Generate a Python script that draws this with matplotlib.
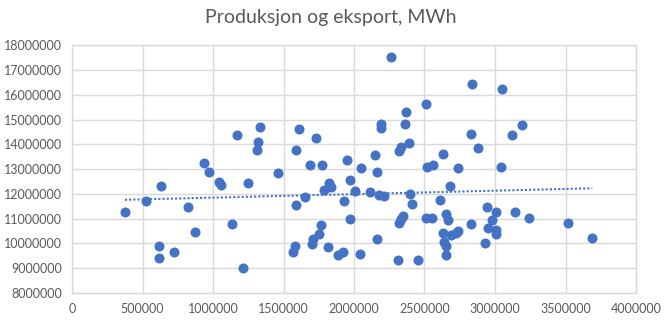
import numpy as np
import matplotlib
matplotlib.use("Agg")
import matplotlib.pyplot as plt
from matplotlib.ticker import MultipleLocator, FuncFormatter

# ==================== Data ====================
# x: produksjon (MWh), y: eksport (MWh)
PRODUKSJON = [
    938e3, 972e3, 1.17e6, 1.33e6, 1.32e6, 1.31e6, 1.46e6, 1.61e6, 1.73e6, 1.59e6,
    1.69e6, 1.77e6, 1.95e6, 1.97e6, 2.05e6, 1.04e6, 1.06e6, 1.25e6, 1.82e6,
    2.26e6, 2.84e6, 3.05e6, 2.51e6, 2.37e6, 2.19e6, 2.19e6, 2.36e6, 2.83e6, 3.12e6,
    3.19e6, 2.39e6, 2.33e6, 2.32e6, 2.88e6, 2.63e6, 2.15e6, 2.16e6, 2.52e6, 2.56e6,
    2.74e6, 3.04e6,
    631e3, 525e3, 376e3, 820e3, 875e3, 1.135e6, 619e3, 619e3, 723e3, 1.21e6,
    1.59e6, 1.655e6, 1.79e6, 1.84e6, 1.93e6, 2.01e6, 1.97e6, 1.765e6, 1.75e6,
    1.71e6, 1.70e6, 1.58e6, 1.57e6, 1.815e6, 1.89e6, 1.92e6, 2.04e6,
    2.11e6, 2.18e6, 2.21e6, 2.40e6, 2.41e6, 2.61e6, 2.68e6, 2.165e6, 2.31e6,
    2.455e6, 2.32e6, 2.33e6, 2.345e6, 2.51e6, 2.55e6, 2.65e6, 2.67e6, 2.63e6,
    2.635e6, 2.65e6, 2.655e6, 2.69e6, 2.72e6, 2.74e6, 2.83e6, 2.94e6, 2.95e6,
    2.93e6, 3.01e6, 2.98e6, 3.01e6, 3.01e6, 3.14e6, 3.24e6, 3.52e6, 3.69e6,
]
EKSPORT = [
    13.24e6, 12.87e6, 14.36e6, 14.69e6, 14.09e6, 13.77e6, 12.83e6, 14.62e6, 14.24e6, 13.77e6,
    13.18e6, 13.15e6, 13.35e6, 12.58e6, 13.05e6, 12.49e6, 12.36e6, 12.45e6, 12.45e6,
    17.51e6, 16.44e6, 16.22e6, 15.64e6, 15.32e6, 14.83e6, 14.66e6, 14.81e6, 14.42e6, 14.38e6,
    14.79e6, 14.06e6, 13.88e6, 13.73e6, 13.86e6, 13.62e6, 13.58e6, 12.89e6, 13.09e6, 13.16e6,
    13.03e6, 13.07e6,
    12.33e6, 11.72e6, 11.29e6, 11.49e6, 10.47e6, 10.79e6, 9.89e6, 9.43e6, 9.64e6, 9.01e6,
    11.54e6, 11.86e6, 12.17e6, 12.26e6, 11.70e6, 12.10e6, 10.98e6, 10.75e6, 10.39e6,
    10.20e6, 9.98e6, 9.90e6, 9.64e6, 9.86e6, 9.54e6, 9.64e6, 9.56e6,
    12.06e6, 11.95e6, 11.92e6, 12.00e6, 11.58e6, 11.74e6, 12.33e6, 10.17e6, 9.33e6,
    9.33e6, 10.83e6, 10.97e6, 11.09e6, 11.01e6, 11.01e6, 11.17e6, 10.93e6, 10.44e6,
    10.05e6, 9.89e6, 9.54e6, 10.35e6, 10.42e6, 10.51e6, 10.77e6, 11.48e6, 10.63e6,
    10.02e6, 11.26e6, 10.95e6, 10.54e6, 10.40e6, 11.25e6, 11.03e6, 10.82e6, 10.23e6,
]

TITLE = "Produksjon og eksport, MWh"

# ==================== Style ====================
POINT_COLOR = "#4472C4"
GRID_COLOR = "#D9D9D9"
TEXT_COLOR = "#595959"
FONT = ["Lato", "DejaVu Sans"]

plt.rcParams["font.family"] = FONT

fig = plt.figure(figsize=(6.65, 3.26), dpi=100)
ax = fig.add_axes([72 / 665, 1 - 293 / 326, (636 - 72) / 665, (293 - 45.3) / 326])

x = np.array(PRODUKSJON)
y = np.array(EKSPORT)

ax.scatter(x, y, s=52, color=POINT_COLOR, zorder=3, linewidths=0)

# linear trendline, as Excel does it
k, m = np.polyfit(x, y, 1)
xt = np.array([x.min(), x.max()])
ax.plot(xt, k * xt + m, linestyle=(0, (1, 1)), color=POINT_COLOR, linewidth=1.5, zorder=2)

ax.set_xlim(0, 4000000)
ax.set_ylim(8000000, 18000000)
ax.xaxis.set_major_locator(MultipleLocator(500000))
ax.yaxis.set_major_locator(MultipleLocator(1000000))
fmt = FuncFormatter(lambda v, p: f"{int(round(v))}")
ax.xaxis.set_major_formatter(fmt)
ax.yaxis.set_major_formatter(fmt)

ax.grid(True, color=GRID_COLOR, linewidth=1, zorder=0)
ax.set_axisbelow(True)
for s in ax.spines.values():
    s.set_color(GRID_COLOR)
    s.set_linewidth(1)

ax.tick_params(length=0, labelsize=9, labelcolor=TEXT_COLOR, pad=7)

fig.text(331 / 665, 1 - 18 / 326, TITLE, ha="center", va="center",
         fontsize=14, color=TEXT_COLOR)

fig.savefig("out.png", dpi=100)
